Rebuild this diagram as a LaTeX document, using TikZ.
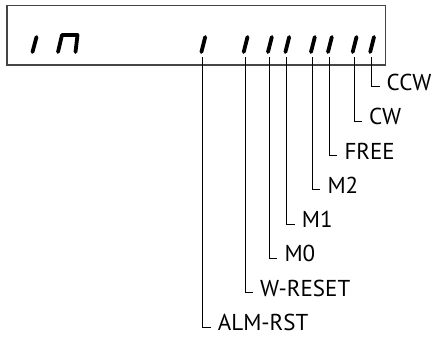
\documentclass[tikz,border=0pt]{standalone}
\usepackage{fontspec}
\setmainfont{PT Sans}
\usepackage{xcolor}
\definecolor{frameGray}{gray}{0.27}
\usepackage{tikz}

\tikzset{
  seg/.style={line width=3.8pt, line cap=round, line join=round},
  lbl/.style={anchor=west, inner xsep=7pt, inner ysep=0pt, text height=0.7em, text depth=0pt,
    font=\fontsize{23}{27}\selectfont},
}

\begin{document}
\begin{tikzpicture}[x=1pt,y=-1pt]
  \useasboundingbox (0,0) rectangle (435,340);
  % ------- display frame and leading digits -------
  \draw[frameGray, line width=1.3pt] (7,5.5) rectangle (385.5,65);
  \draw[seg] (32.5,52) -- (36.5,37);
  \draw[seg] (58,52) -- (62,35) -- (77.5,35) -- (75.5,52);
  % ------- bit segments, leader lines and labels -------
  \foreach \i/\x/\lab in {0/202.7/ALM-RST,1/245/W-RESET,2/269.3/M0,3/286.7/M1,
                         4/312.3/M2,5/329.3/FREE,6/354/CW,7/371.5/CCW} {
    \draw[seg] (\x-1.3,52) -- (\x+2.5,37);
    \coordinate (s\i) at (\x,57);
    \node[lbl] (l\i) at (\x+8,{327-\i*34.3}) {\lab};
    \draw[line width=0.9pt] (s\i) |- (l\i.west);
  }
\end{tikzpicture}
\end{document}
